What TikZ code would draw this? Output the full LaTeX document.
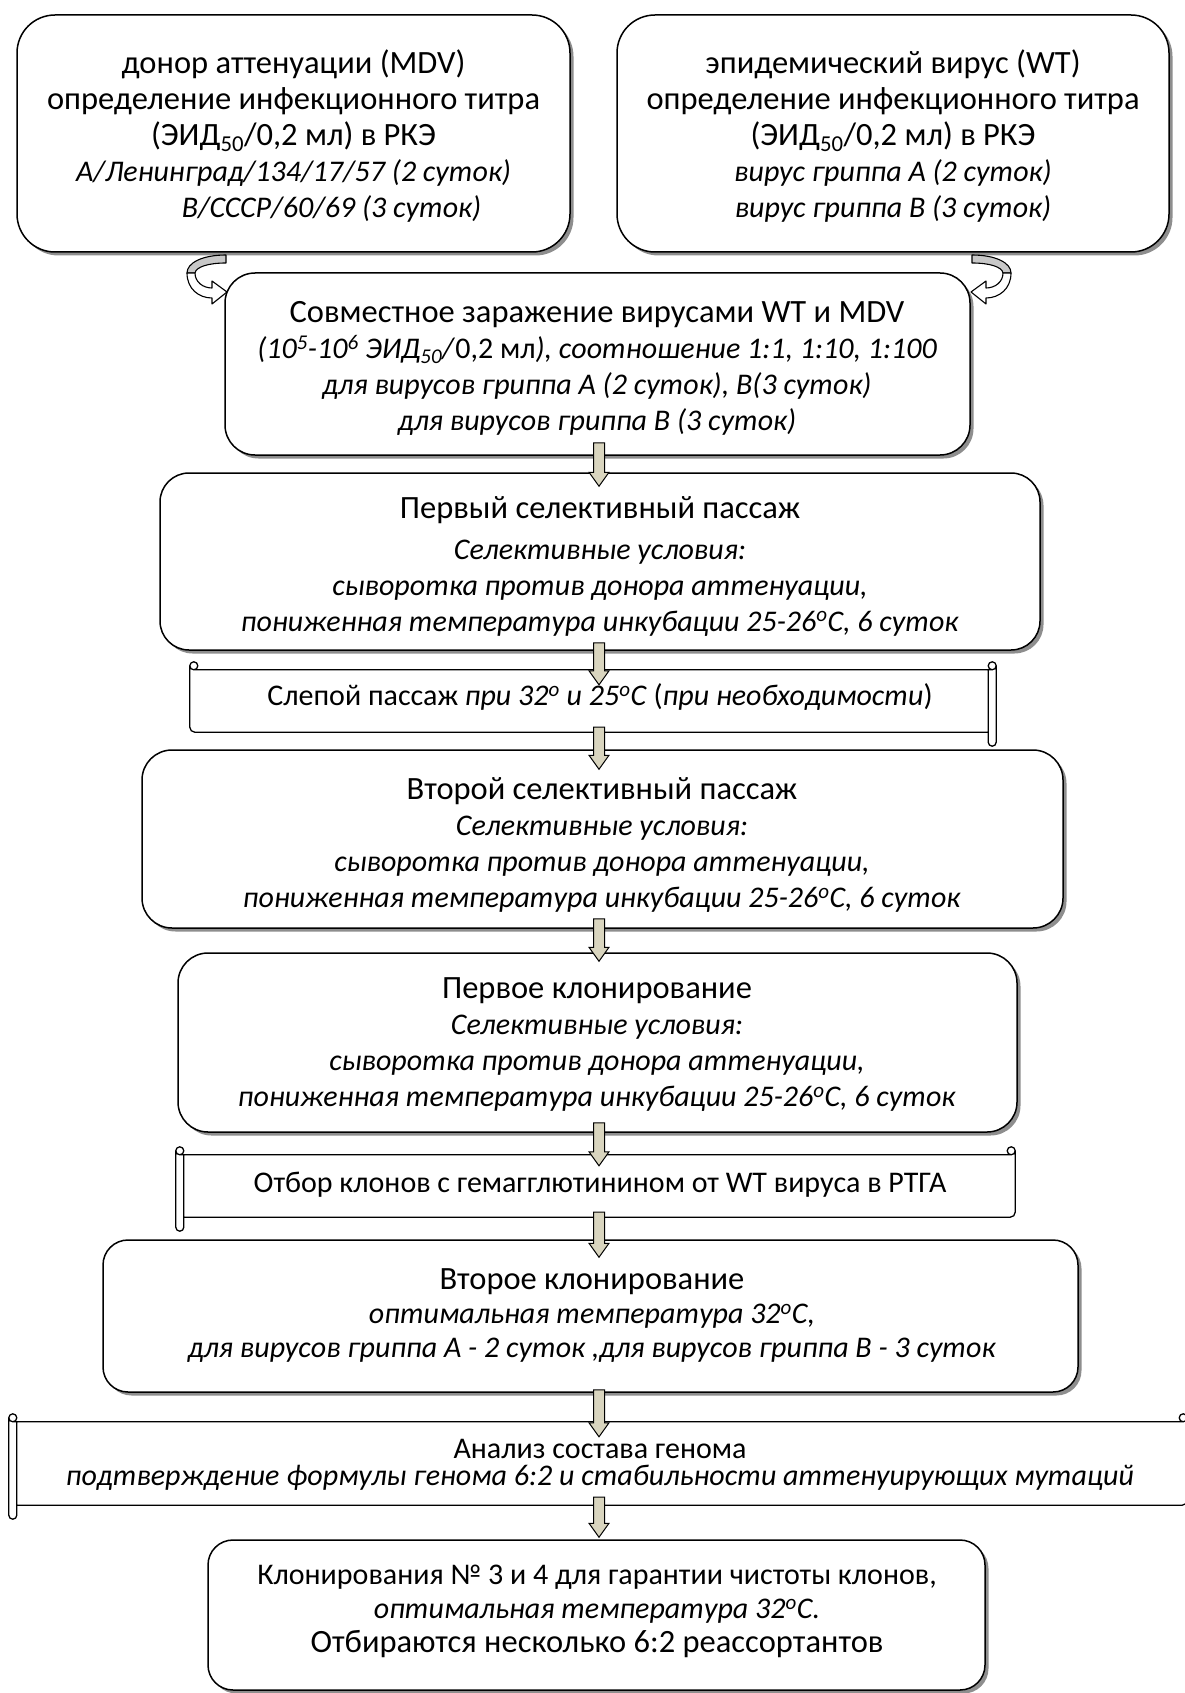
\documentclass[tikz,border=0pt]{standalone}
\usepackage{fontspec}
\setmainfont{Carlito}
\usetikzlibrary{calc,shadows}
\definecolor{arrowfill}{HTML}{D9D5BF}
\definecolor{shadowgray}{HTML}{8E8E8E}
\definecolor{backgray}{HTML}{C8C8C8}
\newcommand{\bigtxt}{\fontsize{32.5}{36}\selectfont}
\newcommand{\barr}[2]{\draw[barrow] let \p1=(#1), \p2=(#2) in (\x1-5.5pt,\y1) -- (\x1+5.5pt,\y1) -- (\x1+5.5pt,\y2+14pt) -- (\x1+10pt,\y2+14pt) -- (\x1,\y2) -- (\x1-10pt,\y2+14pt) -- (\x1-5.5pt,\y2+14pt) -- cycle;}
\newcommand{\scrollstd}[1]{%
 \draw[scrl] let \p1=(#1.north west), \p2=(#1.south east) in
  (\x1,\y1+4pt) -- (\x1,\y2-10pt) arc[start angle=180,end angle=360,radius=4pt] -- (\x1+8pt,\y1)
  (\x1+4pt,\y1+4pt) circle[radius=4pt]
  (\x1+4pt,\y1) -- (\x2-4pt,\y1)
  (\x2-4pt,\y1+4pt) circle[radius=4pt]
  (\x2,\y1+4pt) -- (\x2,\y2+5pt) arc[start angle=0,end angle=-90,radius=5pt] -- (\x1+8pt,\y2);}
\newcommand{\scrollmir}[1]{%
 \draw[scrl] let \p1=(#1.north west), \p2=(#1.south east) in
  (\x2,\y1+4pt) -- (\x2,\y2-10pt) arc[start angle=360,end angle=180,radius=4pt] -- (\x2-8pt,\y1)
  (\x2-4pt,\y1+4pt) circle[radius=4pt]
  (\x2-4pt,\y1) -- (\x1+4pt,\y1)
  (\x1+4pt,\y1+4pt) circle[radius=4pt]
  (\x1,\y1+4pt) -- (\x1,\y2+5pt) arc[start angle=180,end angle=270,radius=5pt] -- (\x2-8pt,\y2);}
\tikzset{
 box/.style={draw, line width=1.5pt, fill=white, inner sep=0pt,
   drop shadow={shadow xshift=3.5pt, shadow yshift=-3.5pt, fill=shadowgray, opacity=1}},
 scrollbody/.style={inner sep=0pt},
 scrl/.style={draw, line width=1.3pt, line join=round},
 txt/.style={align=center, inner sep=0pt, font=\fontsize{30}{36}\selectfont},
 barrow/.style={draw, line width=1pt, fill=arrowfill, line join=miter},
 carrow/.style={draw, line width=1.1pt, line join=round},
}
\begin{document}
\begin{tikzpicture}[x=1pt, y=-1pt]
\useasboundingbox (0,0) rectangle (1184,1693);

% boxes
\node[box, rounded corners=38pt, minimum width=553pt, minimum height=237pt] (box1) at (293.5,133.5) {};
\node[box, rounded corners=38pt, minimum width=552pt, minimum height=237pt] (box2) at (893,133.5) {};
\node[box, rounded corners=30pt, minimum width=745pt, minimum height=182pt] (box3) at (597.5,364) {};
\node[box, rounded corners=29pt, minimum width=880pt, minimum height=177pt] (box4) at (600,561.5) {};
\node[scrollbody, minimum width=806pt, minimum height=62pt] (scroll1) at (593,701) {};
\node[box, rounded corners=30pt, minimum width=921pt, minimum height=178pt] (box5) at (602.5,839) {};
\node[box, rounded corners=30pt, minimum width=839pt, minimum height=179pt] (box6) at (597.5,1042.5) {};
\node[scrollbody, minimum width=839pt, minimum height=62pt] (scroll2) at (595.5,1186) {};
\node[box, rounded corners=25pt, minimum width=975pt, minimum height=152pt] (box7) at (590.5,1316) {};
\node[scrollbody, minimum width=1178pt, minimum height=83pt] (scroll3) at (598,1463.5) {};
\node[box, rounded corners=25pt, minimum width=777pt, minimum height=150pt] (box8) at (596.5,1615) {};

% scroll outlines
\scrollmir{scroll1}
\scrollstd{scroll2}
\scrollstd{scroll3}

% texts
\node[txt] (t1) at (293.5,136) {{\bigtxt донор аттенуации (MDV)}\\{\bigtxt определение инфекционного титра}\\{\bigtxt (ЭИД\textsubscript{50}/0,2 мл) в РКЭ}\\\textit{А/Ленинград/134/17/57 (2 суток)}\\\hspace*{76pt}\textit{B/СССР/60/69 (3 суток)}};
\node[txt] (t2) at (893,136) {{\bigtxt эпидемический вирус (WT)}\\{\bigtxt определение инфекционного титра}\\{\bigtxt (ЭИД\textsubscript{50}/0,2 мл) в РКЭ}\\\textit{вирус гриппа А (2 суток)}\\\textit{вирус гриппа В (3 суток)}};
\node[txt] (t3) at (597,368.5) {{\bigtxt Совместное заражение вирусами WT и MDV}\\\textit{(10\textsuperscript{5}-10\textsuperscript{6} ЭИД\textsubscript{50}/}0,2 мл\textit{), соотношение 1:1, 1:10, 1:100}\\\textit{для вирусов гриппа А (2 суток), В(3 суток)}\\\textit{для вирусов гриппа В (3 суток)}};
\node[txt] (t4) at (600,566) {{\bigtxt Первый селективный пассаж}\\[5pt]\textit{Селективные условия:}\\\textit{сыворотка против донора аттенуации,}\\\textit{пониженная температура инкубации 25-26\textsuperscript{o}C, 6 суток}};
\node[txt] (ts1) at (600,697) {Слепой пассаж \textit{при 32\textsuperscript{o} и 25\textsuperscript{o}C} (\textit{при необходимости})};
\node[txt] (t5) at (602,845) {{\bigtxt Второй селективный пассаж}\\\textit{Селективные условия:}\\\textit{сыворотка против донора аттенуации,}\\\textit{пониженная температура инкубации 25-26\textsuperscript{o}C, 6 суток}};
\node[txt] (t6) at (597,1045) {{\bigtxt Первое клонирование}\\\textit{Селективные условия:}\\\textit{сыворотка против донора аттенуации,}\\\textit{пониженная температура инкубации 25-26\textsuperscript{o}C, 6 суток}};
\node[txt] (ts2) at (600,1185) {Отбор клонов с гемагглютинином от WT вируса в РТГА};
\node[txt, font=\fontsize{30}{34}\selectfont] (t7) at (592,1316) {{\bigtxt Второе клонирование}\\\textit{оптимальная температура 32\textsuperscript{o}C,}\\\textit{для вирусов гриппа А - 2 суток ,для вирусов гриппа В - 3 суток}};
\node[txt, font=\fontsize{30}{27}\selectfont] (ts3) at (600,1465) {Анализ состава генома\\\textit{подтверждение формулы генома 6:2 и стабильности аттенуирующих мутаций}};
\node[txt, font=\fontsize{30}{34}\selectfont] (t8) at (597,1611.5) {Клонирования № 3 и 4 для гарантии чистоты клонов,\\\textit{оптимальная температура 32\textsuperscript{o}C.}\\{\bigtxt Отбираются несколько 6:2 реассортантов}};

% curved arrows (left: box1 -> box3, right: box2 -> box3)
\draw[carrow, fill=backgray] (226,255) .. controls (202,255) and (187,263) .. (187,273) -- (195,273) .. controls (196,267) and (208,263) .. (226,263) -- cycle;
\draw[carrow, fill=white] (187,273) .. controls (187,289) and (199,298) .. (212,298) -- (212,304) -- (227,292) -- (212,281) -- (212,288) .. controls (203,288) and (195,282) .. (195,273) -- cycle;
\begin{scope}[xshift=1198pt, xscale=-1]
\draw[carrow, fill=backgray] (226,255) .. controls (202,255) and (187,263) .. (187,273) -- (195,273) .. controls (196,267) and (208,263) .. (226,263) -- cycle;
\draw[carrow, fill=white] (187,273) .. controls (187,289) and (199,298) .. (212,298) -- (212,304) -- (227,292) -- (212,281) -- (212,288) .. controls (203,288) and (195,282) .. (195,273) -- cycle;
\end{scope}

% block arrows
\coordinate (ax) at (599,0);
\coordinate (a1s) at ($(ax |- box3.south)+(0,-13)$);
\coordinate (a1e) at ($(ax |- box4.north)+(0,14)$);
\coordinate (a2s) at ($(ax |- box4.south)+(0,-8)$);
\coordinate (a2e) at ($(ax |- scroll1.north)+(0,15)$);
\coordinate (a3s) at ($(ax |- scroll1.south)+(0,-5)$);
\coordinate (a3e) at ($(ax |- box5.north)+(0,20)$);
\coordinate (a4s) at ($(ax |- box5.south)+(0,-10)$);
\coordinate (a4e) at ($(ax |- box6.north)+(0,9)$);
\coordinate (a5s) at ($(ax |- box6.south)+(0,-10)$);
\coordinate (a5e) at ($(ax |- scroll2.north)+(0,11)$);
\coordinate (a6s) at ($(ax |- scroll2.south)+(0,-5)$);
\coordinate (a6e) at ($(ax |- box7.north)+(0,18)$);
\coordinate (a7s) at ($(ax |- box7.south)+(0,-3)$);
\coordinate (a7e) at ($(ax |- scroll3.north)+(0,15)$);
\coordinate (a8s) at ($(ax |- scroll3.south)+(0,-8)$);
\coordinate (a8e) at ($(ax |- box8.north)+(0,-2)$);
\barr{a1s}{a1e}
\barr{a2s}{a2e}
\barr{a3s}{a3e}
\barr{a4s}{a4e}
\barr{a5s}{a5e}
\barr{a6s}{a6e}
\barr{a7s}{a7e}
\barr{a8s}{a8e}
\end{tikzpicture}
\end{document}
